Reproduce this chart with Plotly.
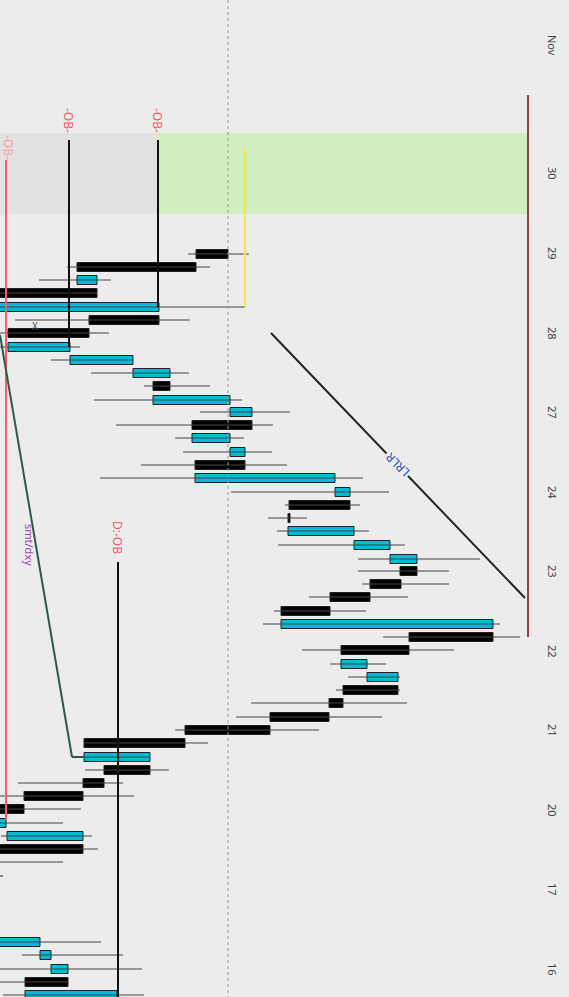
import plotly.graph_objects as go

# time slots (vertical position) and price levels (horizontal position)
t = [254,267,280,293,307,320,333,347,360,373,386,400,412,425,438,452,465,478,
     492,505,518,531,545,559,571,584,597,611,624,637,650,664,677,690,703,717,730,
     743,757,770,783,796,809,823,836,849,862,876,942,955,969,982,995]
body_lo = [196,77,77,-20,-20,89,8,8,70,133,153,153,230,192,192,230,195,195,
           335,289,288,288,354,390,400,370,330,281,281,409,341,341,367,343,329,270,185,
           84,84,104,83,24,-20,-20,7,-20,-20,-20,-20,40,51,25,25]
body_hi = [228,196,97,97,159,159,89,70,133,170,170,230,252,252,230,245,245,335,
           350,350,290,354,390,417,417,401,370,330,493,493,409,367,398,398,343,329,270,
           185,150,150,104,83,24,6,83,83,-10,-10,40,51,68,68,117]
wick_lo = [188,67,39,-20,-20,15,-20,-20,51,91,144,94,200,116,175,183,141,100,
           231,285,268,277,278,358,358,362,309,274,263,383,302,330,348,336,251,236,175,
           84,84,85,18,-20,-20,-20,1,-20,-20,-20,-20,22,-20,-20,3]
wick_hi = [249,210,111,97,245,190,109,80,133,189,210,242,290,273,244,272,287,363,
           389,360,307,369,405,480,449,449,408,366,500,520,454,386,400,400,407,382,319,
           208,150,169,123,134,81,63,92,98,63,3,101,123,142,68,144]
up = [0,0,1,0,1,0,0,1,1,1,0,1,1,0,1,1,0,1,
      1,0,0,1,1,1,0,0,0,0,1,0,0,1,1,0,0,0,0,
      0,1,0,0,0,0,1,1,0,0,0,1,1,1,0,1]

tick_pos = [45,173,253,333,412,492,571,651,730,810,889,969]
tick_lab = ["Nov","30","29","28","27","24","23","22","21","20","17","16"]

CYAN = "#00bcd4"
fig = go.Figure()

wx, wy = [], []
for i in range(len(t)):
    wx += [wick_lo[i], wick_hi[i], None]
    wy += [t[i], t[i], None]
fig.add_trace(go.Scatter(x=wx, y=wy, mode="lines", line=dict(color="#444", width=1.2),
                         hoverinfo="skip"))

for flag, col in [(1, CYAN), (0, "#000000")]:
    idx = [i for i in range(len(t)) if up[i] == flag]
    fig.add_trace(go.Bar(orientation="h", y=[t[i] for i in idx],
                         base=[body_lo[i] for i in idx],
                         x=[max(body_hi[i] - body_lo[i], 1.5) for i in idx],
                         width=9, marker=dict(color=col, line=dict(color="#222", width=1))))

shapes = [
    dict(type="rect", x0=0, x1=158, y0=133, y1=214, fillcolor="#e2e2e2", line_width=0, layer="below"),
    dict(type="rect", x0=158, x1=528, y0=133, y1=214, fillcolor="#cfefbf", line_width=0, layer="below"),
    dict(type="line", x0=228, x1=228, y0=0, y1=997, line=dict(color="#999", width=1, dash="dot")),
    dict(type="line", x0=6, x1=6, y0=160, y1=820, line=dict(color="#f0606c", width=2)),
    dict(type="line", x0=69, x1=69, y0=140, y1=347, line=dict(color="#111", width=2)),
    dict(type="line", x0=158, x1=158, y0=140, y1=307, line=dict(color="#111", width=2)),
    dict(type="line", x0=245, x1=245, y0=148, y1=307, line=dict(color="#f5e94a", width=2)),
    dict(type="line", x0=118, x1=118, y0=562, y1=997, line=dict(color="#111", width=2)),
    dict(type="line", x0=528, x1=528, y0=95, y1=637, line=dict(color="#9a3b45", width=2)),
    dict(type="line", x0=0, x1=72, y0=335, y1=757, line=dict(color="#2f5a4a", width=2)),
    dict(type="line", x0=72, x1=84, y0=757, y1=757, line=dict(color="#2f5a4a", width=2)),
    dict(type="line", x0=271, x1=525, y0=333, y1=598, line=dict(color="#222", width=2)),
]

ann = [dict(x=69, y=120, text="-OB-", textangle=90, font=dict(color="#f25a6a", size=12)),
       dict(x=158, y=120, text="-OB-", textangle=90, font=dict(color="#f25a6a", size=12)),
       dict(x=9, y=147, text="-OB-", textangle=90, font=dict(color="#f5a0a8", size=12)),
       dict(x=118, y=537, text="D:-OB", textangle=90, font=dict(color="#f25a6a", size=12)),
       dict(x=30, y=545, text="smt/dxy", textangle=90, font=dict(color="#a040c0", size=11)),
       dict(x=397, y=465, text="LRLR", textangle=225, font=dict(color="#2a4fc0", size=12), bgcolor="#ececec"),
       dict(x=35, y=326, text="X", font=dict(color="#555", size=10))]
for p, l in zip(tick_pos, tick_lab):
    ann.append(dict(x=553, y=p, text=l, textangle=90, font=dict(color="#444", size=11)))
for a in ann:
    a.update(xref="x", yref="y", showarrow=False)

fig.update_layout(width=569, height=997, margin=dict(l=0, r=0, t=0, b=0),
                  paper_bgcolor="#ececec", plot_bgcolor="#ececec", showlegend=False,
                  barmode="overlay", shapes=shapes, annotations=ann,
                  font=dict(family="Noto Sans"))
fig.update_xaxes(range=[0, 569], visible=False)
fig.update_yaxes(range=[997, 0], visible=False)
fig.write_html("out.html", config={"displayModeBar": False},
               post_script="document.body.style.margin='0';document.body.style.background='#ececec';")
